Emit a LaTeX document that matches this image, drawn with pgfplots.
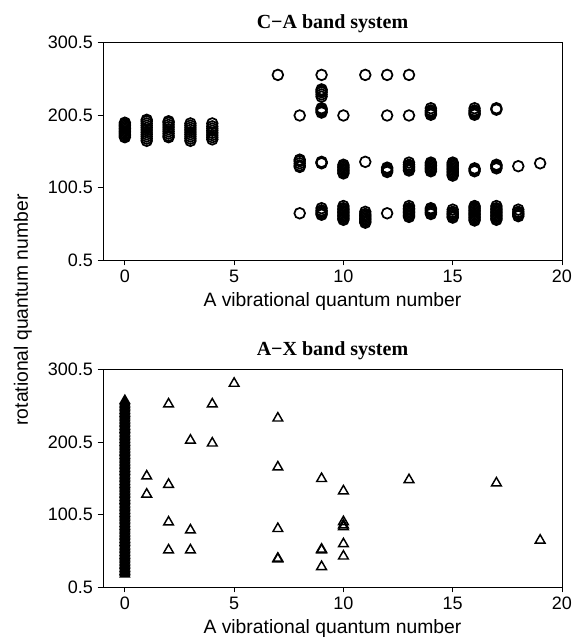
\documentclass[border=0pt]{standalone}
\usepackage{pgfplots}
\pgfplotsset{compat=1.18}
\usepackage{fontspec}
\setmainfont{Liberation Sans}
\newfontfamily\titlefont{Liberation Serif}

\pgfplotsset{
  bandaxis/.style={
    width=344.25pt, height=163pt, scale only axis,
    xmin=-1, xmax=20, ymin=0.5, ymax=300.5,
    xtick={0,5,10,15,20}, xticklabels={0,5,10,15,20},
    ytick={0.5,100.5,200.5,300.5}, yticklabels={0.5,100.5,200.5,300.5},
    tick align=outside, xtick pos=bottom, ytick pos=left,
    major tick length=4pt,
    axis line style={line width=0.7pt},
    tick style={line width=0.7pt, black},
    ticklabel style={font=\fontsize{13.5}{15}\selectfont},
    xlabel={A vibrational quantum number},
    xlabel style={font=\fontsize{14.5}{16}\selectfont, at={(0.5,0)}, anchor=base, yshift=-34.5pt},
    title style={font=\titlefont\bfseries\fontsize{15}{17}\selectfont, at={(0.5,1)}, anchor=base, yshift=5pt},
    clip=false,
  },
}

\begin{document}
\begin{tikzpicture}[x=1pt,y=1pt]
\useasboundingbox (0,0) rectangle (438,477.75);

% C-A band system
\begin{axis}[bandaxis, at={(77.25pt,282.75pt)}, anchor=south west,
  title={C−A band system}]
\addplot[only marks, mark=o, mark size=4pt, line width=1.3pt, black] coordinates {
(0,170) (0,172) (0,174) (0,176) (0,178) (0,180) (0,182) (0,184) (0,186) (0,188) (0,190)
(1,165) (1,168) (1,171) (1,174) (1,177) (1,180) (1,183) (1,186) (1,189) (1,192) (1,194)
(2,170) (2,172) (2,175) (2,178) (2,181) (2,184) (2,187) (2,190) (2,192)
(3,165) (3,168) (3,171) (3,174) (3,177) (3,180) (3,183) (3,186) (3,189)
(4,167) (4,170) (4,173) (4,176) (4,179) (4,182) (4,185) (4,189)
(7,256)
(8,200) (8,129) (8,131) (8,134) (8,137) (8,139) (8,65)
(9,256) (9,226) (9,229) (9,232) (9,234) (9,236) (9,204) (9,206) (9,208) (9,210)
(9,134) (9,135) (9,136) (9,63) (9,65) (9,67) (9,69) (9,72)
(10,200) (10,120) (10,122) (10,124) (10,126) (10,128) (10,130) (10,132)
(10,56) (10,58) (10,60) (10,62) (10,64) (10,66) (10,68) (10,70) (10,72) (10,75)
(11,256) (11,136) (11,52) (11,54) (11,56) (11,58) (11,60) (11,62) (11,64) (11,67)
(12,256) (12,200) (12,122) (12,124) (12,126) (12,128) (12,65)
(13,256) (13,200) (13,124) (13,126) (13,128) (13,130) (13,132) (13,135)
(13,60) (13,62) (13,64) (13,66) (13,68) (13,70) (13,72) (13,75)
(14,201) (14,203) (14,205) (14,207) (14,210)
(14,123) (14,125) (14,127) (14,129) (14,131) (14,133) (14,135)
(14,64) (14,66) (14,68) (14,70) (14,72)
(15,117) (15,119) (15,121) (15,123) (15,125) (15,127) (15,129) (15,131) (15,133) (15,135)
(15,59) (15,61) (15,63) (15,65) (15,67) (15,70)
(16,201) (16,203) (16,205) (16,207) (16,210) (16,123) (16,125) (16,127)
(16,55) (16,57) (16,59) (16,61) (16,63) (16,65) (16,67) (16,69) (16,71) (16,73) (16,75)
(17,208) (17,210) (17,127) (17,129) (17,131) (17,132)
(17,56) (17,58) (17,60) (17,62) (17,64) (17,66) (17,68) (17,70) (17,72) (17,75)
(18,130) (18,61) (18,63) (18,65) (18,67) (18,70)
(19,134)
};
\end{axis}

% A-X band system
\begin{axis}[bandaxis, at={(77.25pt,37.5pt)}, anchor=south west,
  title={A−X band system}]
\addplot[only marks, mark=triangle*, mark size=4pt, line width=1pt, black, fill=black] coordinates {
(0,18) (0,20) (0,22) (0,24) (0,26) (0,28) (0,30) (0,32) (0,34) (0,36) (0,38) (0,40)
(0,42) (0,44) (0,46) (0,48) (0,50) (0,52) (0,54) (0,56) (0,58) (0,60) (0,62) (0,64)
(0,66) (0,68) (0,70) (0,72) (0,74) (0,76) (0,78) (0,80) (0,82) (0,84) (0,86) (0,88)
(0,90) (0,92) (0,94) (0,96) (0,98) (0,100) (0,102) (0,104) (0,106) (0,108) (0,110)
(0,112) (0,114) (0,116) (0,118) (0,120) (0,122) (0,124) (0,126) (0,128) (0,130)
(0,132) (0,134) (0,136) (0,138) (0,140) (0,142) (0,144) (0,146) (0,148) (0,150)
(0,152) (0,154) (0,156) (0,158) (0,160) (0,162) (0,164) (0,166) (0,168) (0,170)
(0,172) (0,174) (0,176) (0,178) (0,180) (0,182) (0,184) (0,186) (0,188) (0,190)
(0,192) (0,194) (0,196) (0,198) (0,200) (0,202) (0,204) (0,206) (0,208) (0,210)
(0,212) (0,214) (0,216) (0,218) (0,220) (0,222) (0,224) (0,226) (0,228) (0,230)
(0,232) (0,234) (0,236) (0,238) (0,240) (0,242) (0,244) (0,246) (0,248) (0,250)
(0,252) (0,254) (0,256) (0,258)
};
\addplot[only marks, mark=triangle, mark size=4.2pt, line width=1.1pt, black] coordinates {
(1,153.5) (1,128.5)
(2,253) (2,142) (2,90) (2,51.5)
(3,203) (3,79) (3,51.5)
(4,253) (4,199)
(5,281.5)
(7,233.5) (7,166) (7,81) (7,39) (7,40)
(9,150) (9,51.5) (9,52.5) (9,28.5)
(10,133) (10,90.5) (10,86) (10,83.5) (10,60) (10,43)
(13,148.5)
(17,144)
(19,65)
};
\end{axis}

\node[rotate=90, font=\fontsize{14.5}{16}\selectfont] at (17.25,245.25) {rotational quantum number};
\end{tikzpicture}
\end{document}
